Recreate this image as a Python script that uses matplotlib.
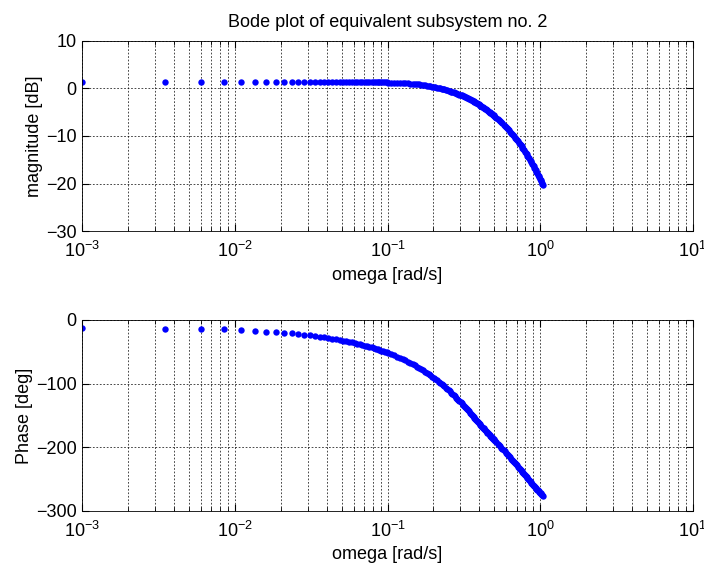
import matplotlib.pyplot as plt

plt.rcParams['font.family'] = ['Liberation Sans', 'DejaVu Sans']

# frequency points [rad/s]
omega = [
    0.001, 0.0035, 0.006, 0.0085, 0.011, 0.0135, 0.016, 0.0185, 0.021, 0.0235,
    0.026, 0.0285, 0.031, 0.0335, 0.036, 0.0385, 0.041, 0.0435, 0.046, 0.0485,
    0.051, 0.0535, 0.056, 0.0585, 0.061, 0.0635, 0.066, 0.0685, 0.071, 0.0735,
    0.076, 0.0785, 0.081, 0.0835, 0.086, 0.0885, 0.091, 0.0935, 0.096, 0.0985,
    0.101,
    0.106, 0.111, 0.116, 0.121, 0.126, 0.131, 0.136, 0.141, 0.146, 0.151,
    0.156, 0.161, 0.166, 0.171, 0.176, 0.181, 0.186, 0.191, 0.196, 0.201,
    0.206, 0.211, 0.216, 0.221, 0.226, 0.231, 0.236, 0.241, 0.246, 0.251,
    0.256, 0.261, 0.266, 0.271, 0.276, 0.281, 0.286, 0.291, 0.296, 0.301,
    0.306, 0.311, 0.316, 0.321, 0.326, 0.331, 0.336, 0.341, 0.346, 0.351,
    0.356, 0.361, 0.366, 0.371, 0.376, 0.381, 0.386, 0.391, 0.396, 0.401,
    0.406, 0.411, 0.416, 0.421, 0.426, 0.431, 0.436, 0.441, 0.446, 0.451,
    0.456, 0.461, 0.466, 0.471, 0.476, 0.481, 0.486, 0.491, 0.496, 0.501,
    0.506,
    0.516, 0.526, 0.536, 0.546, 0.556, 0.566, 0.576, 0.586, 0.596, 0.606,
    0.616, 0.626, 0.636, 0.646, 0.656, 0.666, 0.676, 0.686, 0.696, 0.706,
    0.716, 0.726, 0.736, 0.746, 0.756, 0.766, 0.776, 0.786, 0.796, 0.806,
    0.816, 0.826, 0.836, 0.846, 0.856, 0.866, 0.876, 0.886, 0.896, 0.906,
    0.916, 0.926, 0.936, 0.946, 0.956, 0.966, 0.976, 0.986, 0.996, 1.006,
    1.016, 1.026, 1.036, 1.046,
]

# magnitude [dB]
magnitude = [
    1.25, 1.25, 1.22, 1.25, 1.24, 1.25, 1.24, 1.25, 1.27, 1.27,
    1.28, 1.28, 1.30, 1.31, 1.31, 1.32, 1.32, 1.33, 1.32, 1.33,
    1.33, 1.32, 1.33, 1.32, 1.32, 1.31, 1.31, 1.30, 1.30, 1.29,
    1.29, 1.28, 1.27, 1.26, 1.25, 1.24, 1.23, 1.22, 1.21, 1.20,
    1.19,
    1.17, 1.15, 1.13, 1.10, 1.07, 1.04, 1.01, 0.97, 0.94, 0.89,
    0.85, 0.80, 0.75, 0.69, 0.62, 0.56, 0.49, 0.42, 0.35, 0.28,
    0.21, 0.13, 0.05, -0.02, -0.10, -0.18, -0.27, -0.35, -0.44, -0.52,
    -0.61, -0.70, -0.79, -0.88, -0.97, -1.06, -1.15, -1.24, -1.33, -1.42,
    -1.52, -1.62, -1.72, -1.82, -1.92, -2.02, -2.12, -2.22, -2.32, -2.42,
    -2.53, -2.64, -2.75, -2.86, -2.97, -3.08, -3.19, -3.30, -3.41, -3.52,
    -3.64, -3.75, -3.87, -3.98, -4.10, -4.21, -4.33, -4.44, -4.56, -4.67,
    -4.79, -4.90, -5.02, -5.13, -5.25, -5.36, -5.48, -5.59, -5.71, -5.82,
    -5.94,
    -6.18, -6.42, -6.66, -6.90, -7.14, -7.38, -7.62, -7.86, -8.10, -8.35,
    -8.60, -8.85, -9.10, -9.35, -9.60, -9.85, -10.10, -10.35, -10.60, -10.86,
    -11.13, -11.40, -11.67, -11.94, -12.21, -12.48, -12.75, -13.02, -13.29, -13.57,
    -13.85, -14.13, -14.41, -14.69, -14.97, -15.25, -15.53, -15.81, -16.09, -16.37,
    -16.66, -16.95, -17.24, -17.53, -17.82, -18.11, -18.40, -18.69, -18.98, -19.27,
    -19.55, -19.83, -20.11, -20.39,
]

# phase [deg]
phase = [
    -12.6, -14.6, -14.6, -14.3, -16.5, -17.2, -18.6, -18.9, -20.6, -21.0,
    -22.8, -23.2, -24.4, -25.3, -26.5, -27.4, -28.5, -29.3, -30.4, -31.3,
    -32.4, -33.3, -34.4, -35.3, -36.4, -37.3, -38.3, -39.3, -40.3, -41.2,
    -42.2, -43.2, -44.2, -45.1, -46.1, -47.1, -48.0, -49.0, -50.0, -50.9,
    -51.9,
    -53.8, -55.8, -57.7, -59.7, -61.6, -63.6, -65.5, -67.5, -69.4, -71.4,
    -73.3, -75.3, -77.2, -79.2, -81.1, -83.1, -85.0, -87.0, -88.9, -90.9,
    -92.8, -94.8, -96.7, -98.7, -100.6, -102.6, -104.5, -106.5, -108.4, -110.4,
    -112.3, -114.2, -116.1, -118.0, -119.9, -121.8, -123.7, -125.6, -127.5, -129.4,
    -131.2, -133.0, -134.8, -136.6, -138.4, -140.2, -142.0, -143.7, -145.4, -147.1,
    -148.8, -150.5, -152.2, -153.8, -155.4, -157.0, -158.6, -160.2, -161.7, -163.2,
    -164.7, -166.2, -167.6, -169.0, -170.4, -171.8, -173.2, -174.5, -175.8, -177.1,
    -178.3, -179.5, -180.7, -181.9, -183.1, -184.3, -185.4, -186.5, -187.6, -188.7,
    -189.8,
    -192.1, -194.2, -196.3, -198.4, -200.4, -202.4, -204.3, -206.3, -208.2, -210.1,
    -212.0, -213.9, -215.7, -217.6, -219.4, -221.2, -223.1, -224.9, -226.7, -228.5,
    -230.3, -232.0, -233.8, -235.5, -237.2, -238.9, -240.6, -242.2, -243.9, -245.5,
    -247.0, -248.6, -250.2, -251.7, -253.1, -254.5, -255.9, -257.3, -258.7, -260.1,
    -261.4, -262.7, -264.0, -265.2, -266.4, -267.6, -268.8, -270.0, -271.1, -272.2,
    -273.3, -274.4, -275.4, -276.4,
]

fig = plt.figure(figsize=(7.04, 5.68), dpi=100)
ax1 = fig.add_axes([0.117, 0.593, 0.867, 0.3356])
ax2 = fig.add_axes([0.117, 0.1004, 0.867, 0.3363])

fs = 13


def style(ax):
    ax.set_xscale('log')
    ax.set_xlim(1e-3, 10)
    ax.grid(True, which='major', color='k', linestyle=(0, (2.5, 2.5)), linewidth=0.5)
    ax.grid(True, which='minor', axis='x', color='k', linestyle=(0, (2.5, 2.5)), linewidth=0.5)
    ax.tick_params(which='both', direction='in', top=True, right=True, labelsize=fs)
    ax.tick_params(axis='x', which='major', length=5, pad=7)
    ax.tick_params(axis='y', which='major', length=5, pad=4)
    ax.tick_params(which='minor', length=3)
    for s in ax.spines.values():
        s.set_linewidth(0.6)
    ax.set_xlabel('omega [rad/s]', fontsize=fs, labelpad=4)


ax1.plot(omega, magnitude, 'o', color='#0000ff', markersize=4.6, markeredgewidth=0)
style(ax1)
ax1.set_ylim(-30, 10)
ax1.set_yticks([-30, -20, -10, 0, 10])
ax1.set_ylabel('magnitude [dB]', fontsize=fs, labelpad=2)
ax1.set_title('Bode plot of equivalent subsystem no. 2', fontsize=fs, pad=10)

ax2.plot(omega, phase, 'o', color='#0000ff', markersize=4.6, markeredgewidth=0)
style(ax2)
ax2.set_ylim(-300, 0)
ax2.set_yticks([-300, -200, -100, 0])
ax2.set_ylabel('Phase [deg]', fontsize=fs, labelpad=2)

plt.savefig('out.png', dpi=100)
